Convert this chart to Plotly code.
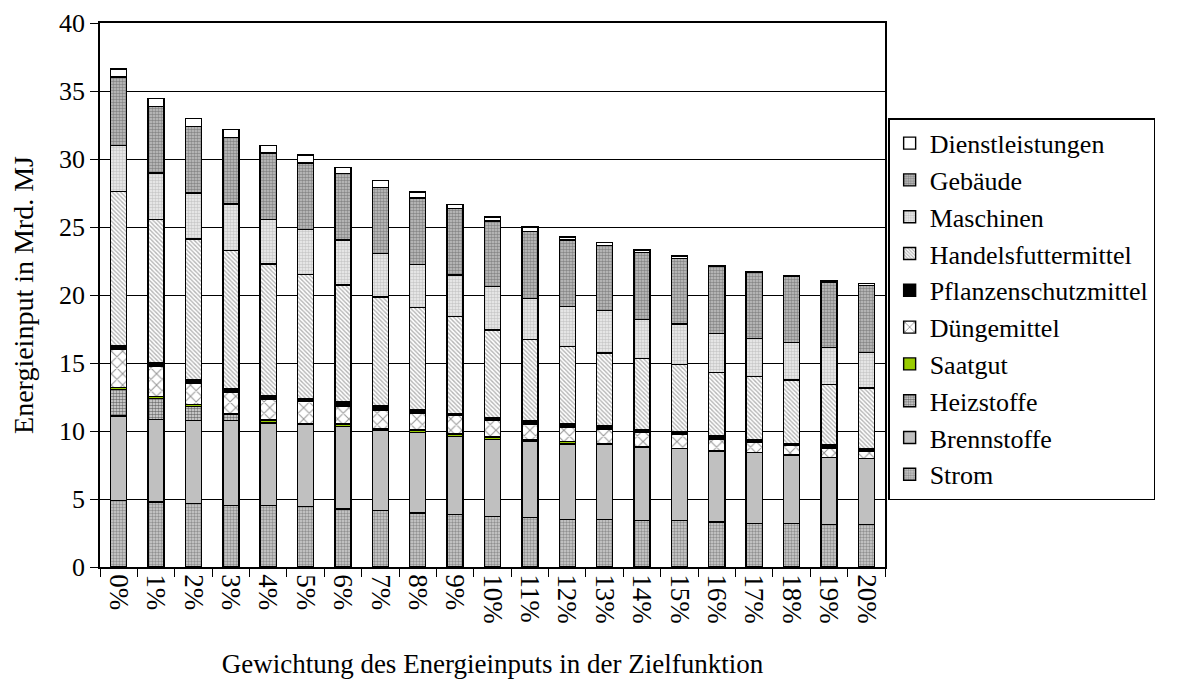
import plotly.graph_objects as go

categories = [f"{i}%" for i in range(21)]

# segment heights (Mrd. MJ), bottom to top
strom = [4.90, 4.78, 4.66, 4.53, 4.53, 4.43, 4.27, 4.15, 3.98, 3.86, 3.71, 3.64, 3.50, 3.48, 3.41, 3.41, 3.31, 3.19, 3.19, 3.11, 3.11]
brennstoffe = [6.21, 6.08, 6.10, 6.23, 6.06, 6.09, 6.07, 5.92, 5.92, 5.75, 5.68, 5.63, 5.53, 5.52, 5.42, 5.30, 5.21, 5.23, 4.99, 4.92, 4.87]
heizstoffe = [1.92, 1.53, 1.04, 0.45, 0.00, 0.00, 0.00, 0.05, 0.00, 0.00, 0.00, 0.05, 0.00, 0.05, 0.00, 0.00, 0.00, 0.00, 0.05, 0.00, 0.00]
saatgut = [0.15, 0.15, 0.17, 0.09, 0.22, 0.05, 0.17, 0.05, 0.17, 0.17, 0.17, 0.05, 0.19, 0.00, 0.00, 0.00, 0.00, 0.00, 0.00, 0.00, 0.00]
duengemittel = [2.81, 2.21, 1.53, 1.51, 1.53, 1.60, 1.33, 1.38, 1.24, 1.34, 1.22, 1.09, 1.05, 1.05, 1.10, 1.02, 0.87, 0.78, 0.72, 0.68, 0.54]
pflanzenschutz = [0.27, 0.27, 0.29, 0.29, 0.27, 0.24, 0.32, 0.29, 0.29, 0.17, 0.19, 0.29, 0.24, 0.31, 0.19, 0.25, 0.29, 0.17, 0.15, 0.29, 0.19]
handelsfutter = [11.35, 10.52, 10.32, 10.18, 9.66, 9.09, 8.59, 8.01, 7.48, 7.11, 6.46, 5.97, 5.70, 5.33, 5.23, 4.89, 4.63, 4.62, 4.65, 4.41, 4.45]
maschinen = [3.40, 3.43, 3.40, 3.42, 3.27, 3.30, 3.30, 3.21, 3.15, 3.06, 3.20, 3.04, 2.96, 3.12, 2.85, 2.99, 2.84, 2.82, 2.75, 2.75, 2.61]
gebaeude = [5.02, 4.87, 4.88, 4.88, 4.90, 4.91, 4.88, 4.83, 4.91, 4.90, 4.81, 4.90, 4.86, 4.79, 4.91, 4.82, 4.94, 4.84, 4.86, 4.79, 4.91]
dienstleistungen = [0.60, 0.59, 0.59, 0.59, 0.57, 0.59, 0.46, 0.51, 0.43, 0.29, 0.29, 0.34, 0.24, 0.20, 0.20, 0.19, 0.10, 0.10, 0.08, 0.10, 0.15]

y_ticks = [0, 5, 10, 15, 20, 25, 30, 35, 40]

series = [
    ("Strom", strom, dict(shape=".", bgcolor="#d0d0d0", fgcolor="#505050", size=3, solidity=0.5)),
    ("Brennstoffe", brennstoffe, None),
    ("Heizstoffe", heizstoffe, dict(shape=".", bgcolor="#e8e8e8", fgcolor="#000000", size=3, solidity=0.6)),
    ("Saatgut", saatgut, None),
    ("Düngemittel", duengemittel, dict(shape="x", bgcolor="#ffffff", fgcolor="#303030", size=8, solidity=0.25)),
    ("Pflanzenschutzmittel", pflanzenschutz, None),
    ("Handelsfuttermittel", handelsfutter, dict(shape="\\", bgcolor="#ffffff", fgcolor="#6a6a6a", size=3, solidity=0.45)),
    ("Maschinen", maschinen, dict(shape=".", bgcolor="#f0f0f0", fgcolor="#a0a0a0", size=3, solidity=0.55)),
    ("Gebäude", gebaeude, dict(shape=".", bgcolor="#c4c4c4", fgcolor="#4a4a4a", size=3, solidity=0.55)),
    ("Dienstleistungen", dienstleistungen, None),
]
solid_colors = {"Brennstoffe": "#c0c0c0", "Saatgut": "#99cc00",
                "Pflanzenschutzmittel": "#000000", "Dienstleistungen": "#ffffff"}

fig = go.Figure()
for name, vals, pat in series:
    marker = dict(line=dict(color="black", width=1.4))
    if pat is None:
        marker["color"] = solid_colors[name]
    else:
        marker["color"] = pat["bgcolor"]
        marker["pattern"] = pat
    fig.add_trace(go.Bar(x=categories, y=vals, name=name, marker=marker))

FONT = "Liberation Serif, Times New Roman, serif"
# the page body adds an 8px offset, so the figure is 8px smaller on each axis
fig.update_layout(
    barmode="stack",
    bargap=0.57,
    width=1175, height=671,
    margin=dict(l=92, r=298, t=15, b=112, autoexpand=False),
    paper_bgcolor="white", plot_bgcolor="white",
    font=dict(family=FONT, size=26, color="black"),
    legend=dict(
        x=1.004, y=0.825, xanchor="left", yanchor="top",
        traceorder="reversed",
        bordercolor="black", borderwidth=1.5,
        font=dict(family=FONT, size=26), itemwidth=30,
    ),
    showlegend=True,
)
fig.update_xaxes(
    type="category", tickangle=90, ticks="outside", tickson="boundaries",
    ticklen=8, tickcolor="black", tickwidth=1.4,
    showline=True, linecolor="black", linewidth=1.5, mirror=True,
    tickfont=dict(family=FONT, size=27),
    title=dict(text="Gewichtung des Energieinputs in der Zielfunktion",
               font=dict(family=FONT, size=27), standoff=34),
)
fig.update_yaxes(
    range=[0, 40], tickvals=y_ticks, ticks="outside", ticklen=8,
    tickcolor="black", tickwidth=1.4, ticklabeloverflow="allow",
    showgrid=True, gridcolor="black", gridwidth=1.2,
    showline=True, linecolor="black", linewidth=1.5, mirror=True,
    tickfont=dict(family=FONT, size=26),
    title=dict(text="Energieinput in Mrd. MJ", font=dict(family=FONT, size=28), standoff=22),
    zeroline=False,
)

fig.write_html("out.html")
